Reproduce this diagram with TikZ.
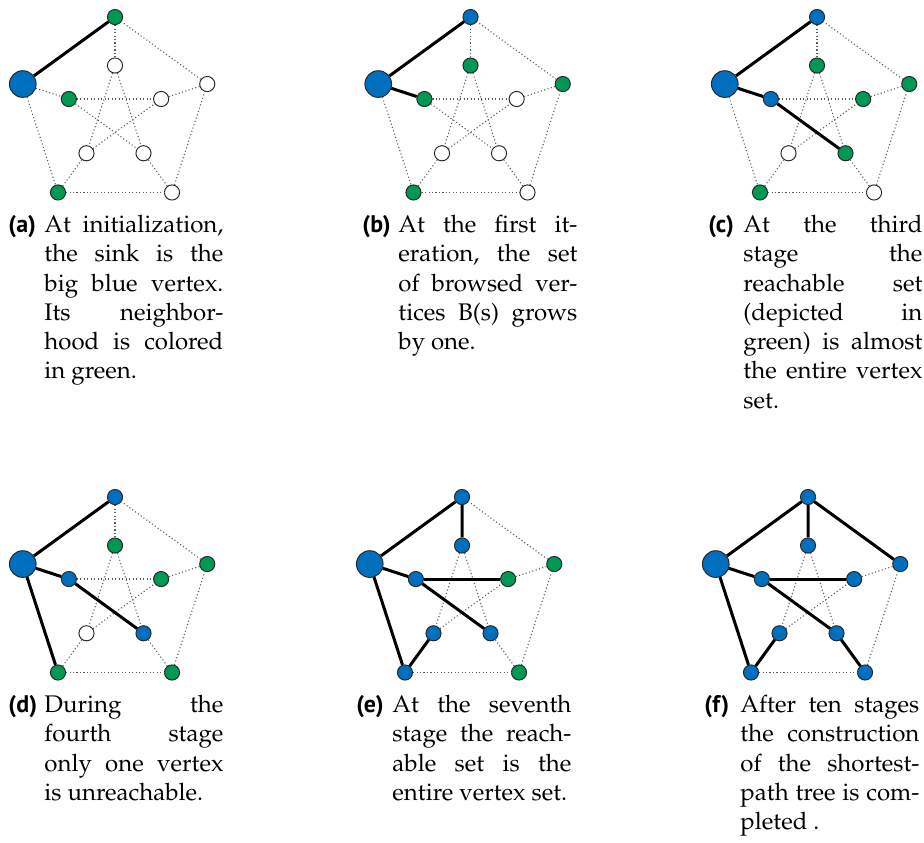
\documentclass[tikz,border=0pt]{standalone}
\usepackage[T1]{fontenc}
\usepackage{fontspec}
\usepackage{tikz}
\usepackage{xcolor}

\newfontfamily\lblfont{PT Sans}
\newcommand{\palfont}{\fontencoding{T1}\fontfamily{ppl}\fontsize{10}{12.2}\selectfont}

\definecolor{sinkblue}{RGB}{0,112,190}
\definecolor{reachgreen}{RGB}{0,152,82}

\tikzset{
  unseen/.style={circle, draw=black!85, line width=0.4pt, inner sep=0pt, minimum size=6.3pt, fill=white},
  seen/.style={unseen, fill=reachgreen},
  done/.style={unseen, fill=sinkblue},
  sink/.style={unseen, fill=sinkblue, minimum size=11.1pt},
  graphedge/.style={densely dotted, black!65, line width=0.45pt},
  treeedge/.style={line width=1.25pt, black},
  sublabel/.style={anchor=base west, inner sep=0pt, font=\lblfont\bfseries\fontsize{10}{12.2}\selectfont},
  subtext/.style={anchor=north west, inner sep=0pt, text width=74.5pt, align=justify, font=\palfont}
}

\begin{document}
\begin{tikzpicture}[x=0.4164pt, y=0.4164pt]
  \useasboundingbox (0,0) rectangle (924,-842);

  % vertices: 1 top, 2 sink, 3 bottom left, 4 bottom right, 5 right, 6-10 the inner star
  % (a) initialization
  \begin{scope}[shift={(115,-114)}]
    \foreach \n/\a/\r/\s in {1/90/97/seen, 2/162/97/sink, 3/234/97/seen, 4/306/97/unseen, 5/18/97/unseen,
        6/90/48.5/unseen, 7/162/48.5/seen, 8/234/48.5/unseen, 9/306/48.5/unseen, 10/18/48.5/unseen}
      \node[\s] (a\n) at (\a:\r) {};
  \end{scope}

  % (b) first iteration
  \begin{scope}[shift={(470.5,-114)}]
    \foreach \n/\a/\r/\s in {1/90/97/done, 2/162/97/sink, 3/234/97/seen, 4/306/97/unseen, 5/18/97/seen,
        6/90/48.5/seen, 7/162/48.5/seen, 8/234/48.5/unseen, 9/306/48.5/unseen, 10/18/48.5/unseen}
      \node[\s] (b\n) at (\a:\r) {};
  \end{scope}

  % (c) third stage
  \begin{scope}[shift={(817,-114)}]
    \foreach \n/\a/\r/\s in {1/90/97/done, 2/162/97/sink, 3/234/97/seen, 4/306/97/unseen, 5/18/97/seen,
        6/90/48.5/seen, 7/162/48.5/done, 8/234/48.5/unseen, 9/306/48.5/seen, 10/18/48.5/seen}
      \node[\s] (c\n) at (\a:\r) {};
  \end{scope}

  % (d) fourth stage
  \begin{scope}[shift={(115,-594)}]
    \foreach \n/\a/\r/\s in {1/90/97/done, 2/162/97/sink, 3/234/97/seen, 4/306/97/seen, 5/18/97/seen,
        6/90/48.5/seen, 7/162/48.5/done, 8/234/48.5/unseen, 9/306/48.5/done, 10/18/48.5/seen}
      \node[\s] (d\n) at (\a:\r) {};
  \end{scope}

  % (e) seventh stage
  \begin{scope}[shift={(462,-594)}]
    \foreach \n/\a/\r/\s in {1/90/97/done, 2/162/97/sink, 3/234/97/done, 4/306/97/seen, 5/18/97/seen,
        6/90/48.5/done, 7/162/48.5/done, 8/234/48.5/done, 9/306/48.5/done, 10/18/48.5/seen}
      \node[\s] (e\n) at (\a:\r) {};
  \end{scope}

  % (f) after ten stages
  \begin{scope}[shift={(808,-594)}]
    \foreach \n/\a/\r/\s in {1/90/97/done, 2/162/97/sink, 3/234/97/done, 4/306/97/done, 5/18/97/done,
        6/90/48.5/done, 7/162/48.5/done, 8/234/48.5/done, 9/306/48.5/done, 10/18/48.5/done}
      \node[\s] (f\n) at (\a:\r) {};
  \end{scope}

  % Draw the Petersen edges
  \foreach \p in {a,b,c,d,e,f}
    \foreach \u/\v in {1/2, 2/3, 3/4, 4/5, 5/1, 1/6, 2/7, 3/8, 4/9, 5/10, 6/8, 6/9, 7/9, 7/10, 8/10}
      \draw[graphedge] (\p\u) -- (\p\v);

  % tree edges
  \draw[treeedge] (a2) -- (a1);

  \draw[treeedge] (b2) -- (b1);
  \draw[treeedge] (b2) -- (b7);

  \draw[treeedge] (c2) -- (c1);
  \draw[treeedge] (c2) -- (c7) -- (c9);

  \draw[treeedge] (d2) -- (d1);
  \draw[treeedge] (d2) -- (d7) -- (d9);
  \draw[treeedge] (d2) -- (d3);

  \draw[treeedge] (e2) -- (e1) -- (e6);
  \draw[treeedge] (e2) -- (e7) -- (e9);
  \draw[treeedge] (e7) -- (e10);
  \draw[treeedge] (e2) -- (e3) -- (e8);

  \draw[treeedge] (f2) -- (f1) -- (f6);
  \draw[treeedge] (f1) -- (f5);
  \draw[treeedge] (f2) -- (f7) -- (f9) -- (f4);
  \draw[treeedge] (f7) -- (f10);
  \draw[treeedge] (f2) -- (f3) -- (f8);

  % captions
  \node[sublabel] (la) at (8,-232) {(a)};
  \node[subtext] (ca) at (44,-211.5) {\strut At~initialization,\linebreak the~sink~is~the\linebreak
    big~blue~vertex.\linebreak Its~neighbor-\linebreak hood~is~colored\linebreak in~green.};

  \node[sublabel] (lb) at (362,-232) {(b)};
  \node[subtext] (cb) at (398,-211.5) {\strut At~the~first~it-\linebreak eration,~the~set\linebreak
    of~browsed~ver-\linebreak tices~B(s)~grows\linebreak by~one.};

  \node[sublabel] (lc) at (708,-232) {(c)};
  \node[subtext] (cc) at (743,-211.5) {\strut At~the~third\linebreak stage~the\linebreak
    reachable~set\linebreak (depicted~in\linebreak green)~is~almost\linebreak the~entire~vertex\linebreak set.};

  \node[sublabel] (ld) at (8,-712) {(d)};
  \node[subtext] (cd) at (44,-691.5) {\strut During~the\linebreak fourth~stage\linebreak
    only~one~vertex\linebreak is~unreachable.};

  \node[sublabel] (le) at (356,-712) {(e)};
  \node[subtext] (ce) at (392,-691.5) {\strut At~the~seventh\linebreak stage~the~reach-\linebreak
    able~set~is~the\linebreak entire~vertex~set.};

  \node[sublabel] (lf) at (704,-712) {(f)};
  \node[subtext] (cf) at (740,-691.5) {\strut After~ten~stages\linebreak the~construction\linebreak
    of~the~shortest-\linebreak path~tree~is~com-\linebreak pleted~.};
\end{tikzpicture}
\end{document}
